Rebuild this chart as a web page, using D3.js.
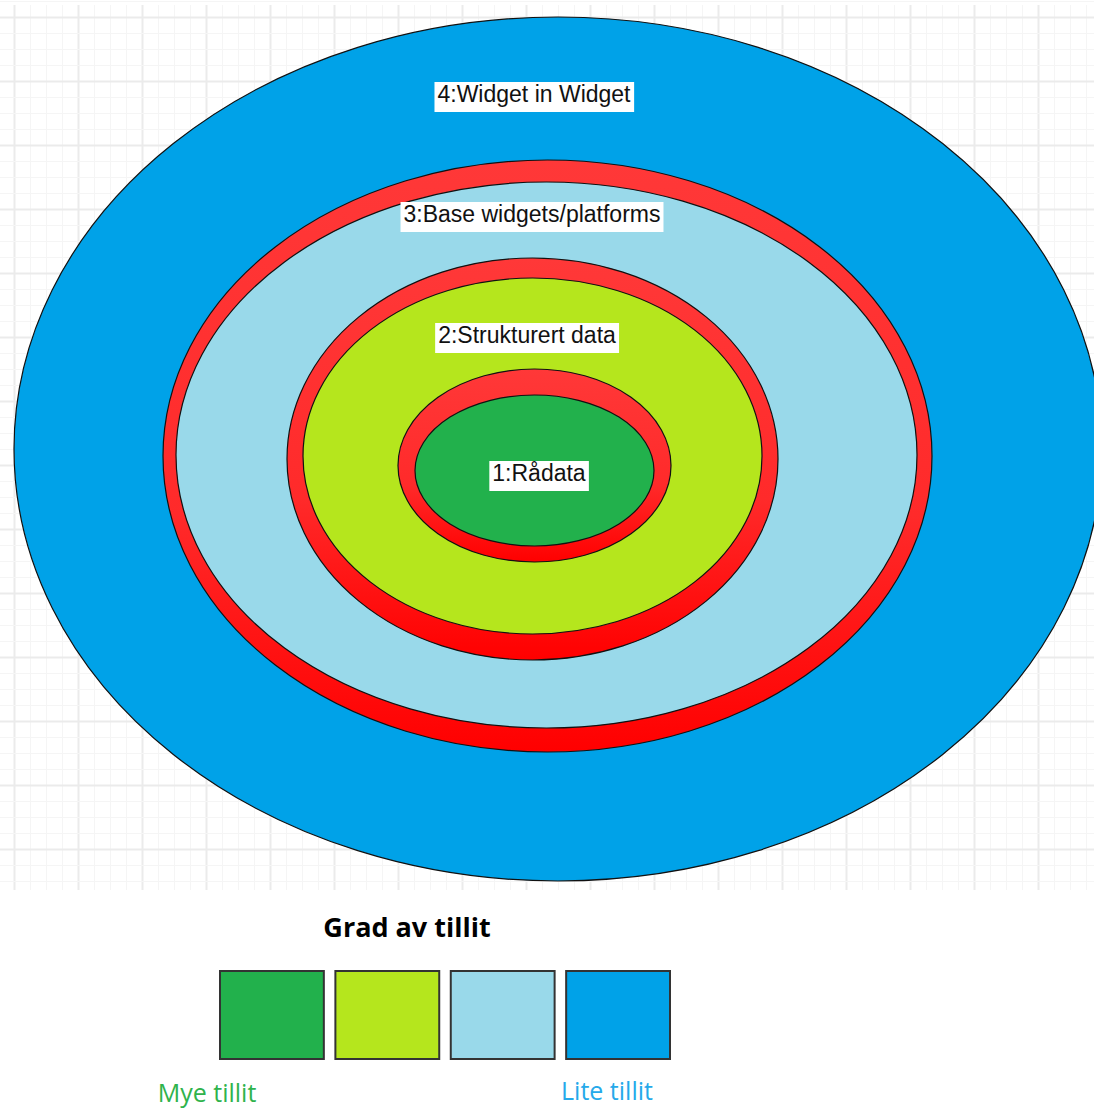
<!DOCTYPE html>
<meta charset="utf-8">
<body style="margin:0;background:#fff">
<script src="https://cdn.jsdelivr.net/npm/d3@7"></script>
<script>

var width = 1094,
  height = 1110;

// trust levels, innermost first
var levels = [1, 2, 3, 4];
var labels = ["1:Rådata", "2:Strukturert data", "3:Base widgets/platforms", "4:Widget in Widget"];
var levelColors = ["#22b14c", "#b5e61d", "#99d9ea", "#00a2e8"];
var legendTitle = "Grad av tillit";
var legendEnds = ["Mye tillit", "Lite tillit"];
var legendEndColors = ["#2fb34c", "#25a9ea"];

// ellipse geometry per level: outer red ring edge and inner fill edge
var rings = [
  {level: 1, outer: [534.5, 465.5, 136.5, 96.5], inner: [534.5, 470.5, 119.5, 75.5], label: [539, 481]},
  {level: 2, outer: [532.5, 459, 245.5, 201], inner: [532.5, 456, 229.5, 178], label: [527, 343]},
  {level: 3, outer: [547.5, 456, 384.5, 296], inner: [546.5, 455, 370.5, 273], label: [532, 222]},
  {level: 4, outer: null, inner: [558, 449, 544, 432], label: [534, 102]}
];

var color = d3.scaleOrdinal().domain(levels).range(levelColors);

var svg = d3.select("body").append("svg")
  .attr("width", width)
  .attr("height", height)

var defs = svg.append("defs")
var grad = defs.append("linearGradient")
  .attr("id", "redgrad")
  .attr("x1", 0).attr("y1", 0).attr("x2", 0).attr("y2", 1)
grad.append("stop").attr("offset", "0%").attr("stop-color", "#ff3838")
grad.append("stop").attr("offset", "60%").attr("stop-color", "#ff2a2a")
grad.append("stop").attr("offset", "100%").attr("stop-color", "#ff0000")

// background grid
var grid = svg.append("g").attr("class", "grid")
var gx = d3.range(-2, width, 16),
  gy = d3.range(1, 891, 16);
grid.selectAll(".vx").data(gx).enter().append("line")
  .attr("x1", d => d + 0.5).attr("x2", d => d + 0.5)
  .attr("y1", 5).attr("y2", 890)
  .attr("stroke", d => ((d - 14) % 64 === 0) ? "#ebebeb" : "#f5f5f5")
  .attr("stroke-width", d => ((d - 14) % 64 === 0) ? 2 : 1)
grid.selectAll(".hy").data(gy).enter().append("line")
  .attr("y1", d => d + 0.5).attr("y2", d => d + 0.5)
  .attr("x1", 0).attr("x2", width)
  .attr("stroke", d => ((d - 17) % 64 === 0) ? "#ebebeb" : "#f5f5f5")
  .attr("stroke-width", d => ((d - 17) % 64 === 0) ? 2 : 1)

// ellipses, outermost first
var ellG = svg.append("g")
rings.slice().reverse().forEach(function(r) {
  if (r.outer) {
    ellG.append("ellipse")
      .attr("cx", r.outer[0]).attr("cy", r.outer[1])
      .attr("rx", r.outer[2]).attr("ry", r.outer[3])
      .attr("fill", "url(#redgrad)")
      .attr("stroke", "#111").attr("stroke-width", 1.2)
  }
  ellG.append("ellipse")
    .attr("cx", r.inner[0]).attr("cy", r.inner[1])
    .attr("rx", r.inner[2]).attr("ry", r.inner[3])
    .attr("fill", color(r.level))
    .attr("stroke", "#111").attr("stroke-width", 1.2)
});

// labels with white boxes
var labG = svg.append("g")
rings.forEach(function(r) {
  var g = labG.append("g")
  var t = g.append("text")
    .attr("x", r.label[0]).attr("y", r.label[1])
    .attr("text-anchor", "middle")
    .style("font-family", "Liberation Sans, Arial, sans-serif")
    .style("font-size", "23px")
    .attr("fill", "#111")
    .text(labels[r.level - 1])
  var bb = t.node().getBBox();
  g.insert("rect", "text")
    .attr("x", bb.x - 3).attr("y", bb.y + 1)
    .attr("width", bb.width + 6).attr("height", bb.height + 4)
    .attr("fill", "#fff")
});

// legend
svg.append("text")
  .attr("x", 407).attr("y", 937)
  .attr("text-anchor", "middle")
  .style("font-family", "Open Sans, sans-serif")
  .style("font-weight", "bold")
  .style("font-size", "27px")
  .attr("fill", "#000")
  .text(legendTitle)

var lx = d3.scaleBand().domain(levels).range([220, 670]).paddingInner(0.1)

svg.selectAll(".sw").data(levels).enter().append("rect")
  .attr("class", "sw")
  .attr("x", d => lx(d)).attr("y", 971)
  .attr("width", lx.bandwidth()).attr("height", 88)
  .attr("fill", d => color(d))
  .attr("stroke", "#333").attr("stroke-width", 2)

svg.selectAll(".end").data(legendEnds).enter().append("text")
  .attr("x", (d, i) => i === 0 ? 207 : 607)
  .attr("y", (d, i) => i === 0 ? 1102 : 1100)
  .attr("text-anchor", "middle")
  .style("font-family", "Open Sans, sans-serif")
  .style("font-size", "25px")
  .attr("fill", (d, i) => legendEndColors[i])
  .text(d => d)

</script>
</body>
</html>
